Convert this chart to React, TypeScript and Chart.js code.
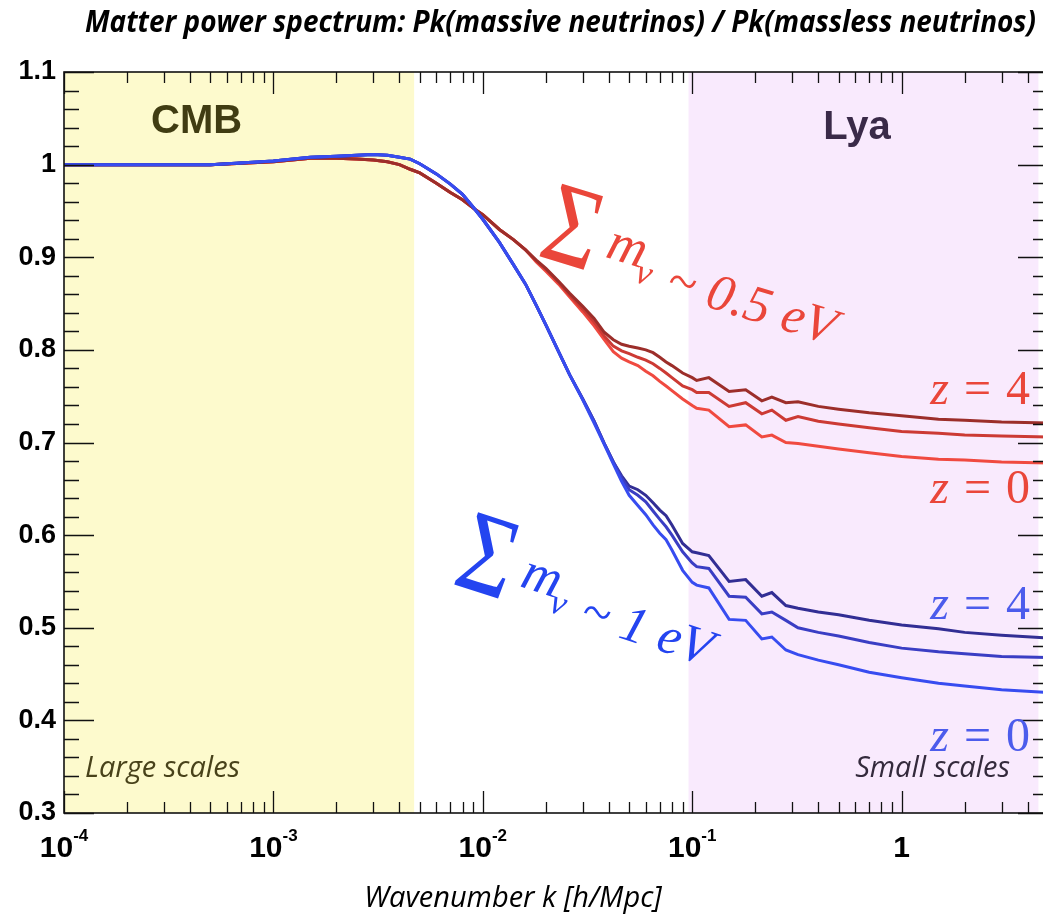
import React, { useEffect, useRef } from 'react';
import { Chart, registerables } from 'chart.js';

Chart.register(...registerables);

// ---------- data ----------
const K = [1e-4, 2e-4, 5e-4, 1e-3, 1.5e-3, 2e-3, 2.5e-3, 3e-3, 3.5e-3, 4e-3, 4.5e-3, 5e-3, 6e-3, 7e-3, 8e-3, 9e-3, 0.01, 0.012, 0.014, 0.016, 0.018, 0.02, 0.023, 0.026, 0.03, 0.034, 0.038, 0.042, 0.046, 0.05, 0.055, 0.06, 0.065, 0.07, 0.075, 0.08, 0.09, 0.1, 0.105, 0.12, 0.15, 0.18, 0.215, 0.24, 0.28, 0.32, 0.4, 0.5, 0.7, 1, 1.5, 2, 3, 5];

const RED_Z4 = [1.000, 1.000, 1.000, 1.003, 1.007, 1.007, 1.006, 1.005, 1.003, 1.000, 0.995, 0.991, 0.980, 0.970, 0.962, 0.953, 0.946, 0.930, 0.919, 0.908, 0.897, 0.888, 0.874, 0.861, 0.847, 0.834, 0.819, 0.811, 0.806, 0.804, 0.802, 0.800, 0.797, 0.792, 0.787, 0.783, 0.775, 0.770, 0.767, 0.770, 0.755, 0.757, 0.745, 0.749, 0.743, 0.744, 0.739, 0.736, 0.732, 0.729, 0.725, 0.724, 0.722, 0.721];
const RED_MID = [1.000, 1.000, 1.000, 1.003, 1.007, 1.007, 1.006, 1.005, 1.003, 1.000, 0.995, 0.991, 0.980, 0.970, 0.962, 0.953, 0.946, 0.930, 0.919, 0.908, 0.896, 0.887, 0.873, 0.859, 0.844, 0.830, 0.815, 0.804, 0.799, 0.796, 0.792, 0.789, 0.785, 0.780, 0.775, 0.770, 0.761, 0.757, 0.754, 0.754, 0.739, 0.743, 0.731, 0.735, 0.724, 0.728, 0.723, 0.720, 0.716, 0.712, 0.710, 0.708, 0.707, 0.706];
const RED_Z0 = [1.000, 1.000, 1.000, 1.003, 1.007, 1.007, 1.006, 1.005, 1.003, 1.000, 0.995, 0.991, 0.980, 0.970, 0.962, 0.953, 0.946, 0.930, 0.919, 0.908, 0.895, 0.885, 0.871, 0.857, 0.841, 0.826, 0.811, 0.798, 0.791, 0.787, 0.783, 0.777, 0.772, 0.766, 0.761, 0.756, 0.747, 0.740, 0.737, 0.735, 0.717, 0.719, 0.706, 0.708, 0.700, 0.699, 0.696, 0.693, 0.689, 0.685, 0.682, 0.681, 0.679, 0.678];

const BLUE_Z4 = [1.000, 1.000, 1.000, 1.004, 1.008, 1.009, 1.010, 1.011, 1.010, 1.008, 1.006, 1.001, 0.990, 0.979, 0.968, 0.954, 0.941, 0.916, 0.892, 0.871, 0.848, 0.827, 0.798, 0.773, 0.747, 0.723, 0.699, 0.679, 0.664, 0.653, 0.649, 0.643, 0.635, 0.627, 0.621, 0.611, 0.591, 0.582, 0.581, 0.578, 0.550, 0.552, 0.534, 0.538, 0.524, 0.521, 0.517, 0.514, 0.508, 0.503, 0.499, 0.495, 0.492, 0.489];
const BLUE_MID = [1.000, 1.000, 1.000, 1.004, 1.008, 1.009, 1.010, 1.011, 1.010, 1.008, 1.006, 1.001, 0.990, 0.979, 0.968, 0.954, 0.941, 0.916, 0.892, 0.871, 0.848, 0.827, 0.798, 0.773, 0.747, 0.723, 0.699, 0.679, 0.662, 0.649, 0.643, 0.636, 0.626, 0.617, 0.609, 0.600, 0.582, 0.570, 0.566, 0.564, 0.534, 0.533, 0.515, 0.517, 0.508, 0.500, 0.495, 0.491, 0.484, 0.478, 0.474, 0.472, 0.469, 0.468];
const BLUE_Z0 = [1.000, 1.000, 1.000, 1.004, 1.008, 1.009, 1.010, 1.011, 1.010, 1.008, 1.006, 1.001, 0.990, 0.979, 0.968, 0.954, 0.941, 0.916, 0.892, 0.871, 0.848, 0.827, 0.798, 0.773, 0.746, 0.721, 0.698, 0.677, 0.658, 0.643, 0.632, 0.622, 0.611, 0.602, 0.595, 0.584, 0.562, 0.549, 0.546, 0.543, 0.509, 0.508, 0.488, 0.490, 0.476, 0.471, 0.465, 0.460, 0.452, 0.446, 0.440, 0.437, 0.433, 0.430];

const X_MIN = 1e-4;
const X_MAX = 5;
const Y_MIN = 0.3;
const Y_MAX = 1.1;
const X_DECADE_LABELS = [
  { k: 1e-4, base: '10', exp: '-4' },
  { k: 1e-3, base: '10', exp: '-3' },
  { k: 1e-2, base: '10', exp: '-2' },
  { k: 1e-1, base: '10', exp: '-1' },
  { k: 1, base: '1', exp: '' },
];

const BANDS = [
  { from: 1e-4, to: 4.7e-3, color: 'rgb(253,250,205)' },
  { from: 0.096, to: 4.5, color: 'rgb(249,234,253)' },
];

const TITLE = 'Matter power spectrum: Pk(massive neutrinos) / Pk(massless neutrinos)';
const X_TITLE = 'Wavenumber k [h/Mpc]';

const RED_TEXT = 'rgb(234,70,58)';
const BLUE_TEXT = 'rgb(36,68,240)';
const BLUE_Z_TEXT = 'rgb(76,92,236)';

// Chart.js paints dataset 0 on top
const SERIES = [
  { label: 'Σmν ~ 1 eV, z = 0', data: BLUE_Z0, color: 'rgb(55,76,240)' },
  { label: 'Σmν ~ 1 eV, intermediate z', data: BLUE_MID, color: 'rgb(58,62,196)' },
  { label: 'Σmν ~ 1 eV, z = 4', data: BLUE_Z4, color: 'rgb(50,46,148)' },
  { label: 'Σmν ~ 0.5 eV, z = 4', data: RED_Z4, color: 'rgb(156,46,42)' },
  { label: 'Σmν ~ 0.5 eV, intermediate z', data: RED_MID, color: 'rgb(204,58,52)' },
  { label: 'Σmν ~ 0.5 eV, z = 0', data: RED_Z0, color: 'rgb(240,74,64)' },
];

const SERIF = '"Liberation Serif", "DejaVu Serif", serif';
const SANS = '"Liberation Sans", Arial, sans-serif';
const CALI = '"Open Sans", "Noto Sans", sans-serif';

// ---------- plugins ----------
const bandsPlugin = {
  id: 'bands',
  beforeDatasetsDraw(chart: any) {
    const { ctx, chartArea: a, scales } = chart;
    const x = scales.x;
    ctx.save();
    for (const b of BANDS) {
      const x0 = x.getPixelForValue(b.from);
      const x1 = x.getPixelForValue(b.to);
      ctx.fillStyle = b.color;
      ctx.fillRect(x0, a.top, x1 - x0, a.bottom - a.top);
    }
    ctx.restore();
  },
};

const framePlugin = {
  id: 'frameTicks',
  afterDatasetsDraw(chart: any) {
    const { ctx, chartArea: a, scales } = chart;
    const x = scales.x;
    const y = scales.y;
    ctx.save();
    ctx.strokeStyle = '#111';
    ctx.lineWidth = 1.3;
    ctx.beginPath();
    for (let e = -4; e <= 0; e++) {
      for (let m = 1; m <= 9; m++) {
        const v = m * Math.pow(10, e);
        if (v >= X_MAX) break;
        const p = Math.round(x.getPixelForValue(v)) + 0.5;
        const len = m === 1 ? 22 : 11;
        ctx.moveTo(p, a.bottom);
        ctx.lineTo(p, a.bottom - len);
        ctx.moveTo(p, a.top);
        ctx.lineTo(p, a.top + len);
      }
    }
    for (let i = 0; i <= 40; i++) {
      const v = Y_MIN + i * 0.02;
      const p = Math.round(y.getPixelForValue(v)) + 0.5;
      const len = i % 5 === 0 ? 30 : 15;
      ctx.moveTo(a.left, p);
      ctx.lineTo(a.left + len, p);
      ctx.moveTo(a.right, p);
      ctx.lineTo(a.right - len, p);
    }
    ctx.stroke();
    ctx.lineWidth = 1.6;
    ctx.strokeRect(a.left, a.top, a.right - a.left, a.bottom - a.top);
    ctx.restore();
  },
};

function drawSum(ctx: CanvasRenderingContext2D, cx: number, cy: number, angle: number, color: string, tail: string) {
  ctx.save();
  ctx.translate(cx, cy);
  ctx.rotate((angle * Math.PI) / 180);
  ctx.fillStyle = color;
  ctx.save();
  ctx.scale(0.82, 1);
  ctx.font = `116px ${SERIF}`;
  ctx.textAlign = 'center';
  ctx.textBaseline = 'middle';
  ctx.fillText('Σ', 0, 0);
  ctx.restore();
  ctx.textAlign = 'left';
  ctx.textBaseline = 'alphabetic';
  ctx.font = `italic 54px ${SERIF}`;
  ctx.fillText('m', 38, 12);
  const mw = ctx.measureText('m').width;
  ctx.font = `italic 36px ${SERIF}`;
  ctx.fillText('ν', 38 + mw - 4, 27);
  ctx.font = `italic 52px ${SERIF}`;
  ctx.fillText(tail, 106, 30);
  ctx.restore();
}

function drawZ(ctx: CanvasRenderingContext2D, right: number, base: number, color: string, digit: string) {
  ctx.save();
  ctx.fillStyle = color;
  ctx.textBaseline = 'alphabetic';
  ctx.textAlign = 'left';
  const gap = 15;
  ctx.font = `italic 48px ${SERIF}`;
  const wz = ctx.measureText('z').width;
  ctx.font = `48px ${SERIF}`;
  const we = ctx.measureText('=').width;
  const wd = ctx.measureText(digit).width;
  let xx = right - (wz + gap + we + gap + wd);
  ctx.font = `italic 48px ${SERIF}`;
  ctx.fillText('z', xx, base);
  xx += wz + gap;
  ctx.font = `48px ${SERIF}`;
  ctx.fillText('=', xx, base);
  xx += we + gap;
  ctx.fillText(digit, xx, base);
  ctx.restore();
}

const annotationsPlugin = {
  id: 'annotations',
  afterDraw(chart: any) {
    const { ctx, chartArea: a, scales } = chart;
    const x = scales.x;
    const y = scales.y;
    const px = (k: number) => x.getPixelForValue(k);
    const py = (v: number) => y.getPixelForValue(v);
    ctx.save();

    // title
    ctx.fillStyle = '#000';
    ctx.font = `italic bold 30px ${CALI}`;
    ctx.textAlign = 'right';
    ctx.textBaseline = 'middle';
    ctx.fillText(TITLE, 1036, 23, 951);

    // x tick labels
    ctx.textBaseline = 'alphabetic';
    ctx.textAlign = 'left';
    for (const t of X_DECADE_LABELS) {
      ctx.font = `bold 30px ${SANS}`;
      const wb = ctx.measureText(t.base).width;
      ctx.font = `bold 17px ${SANS}`;
      const we = t.exp ? ctx.measureText(t.exp).width : 0;
      const c = px(t.k);
      const start = c - (wb + we) / 2;
      ctx.font = `bold 30px ${SANS}`;
      ctx.fillText(t.base, start, a.bottom + 44);
      if (t.exp) {
        ctx.font = `bold 17px ${SANS}`;
        ctx.fillText(t.exp, start + wb, a.bottom + 28);
      }
    }

    // x title
    ctx.font = `italic 29px ${CALI}`;
    ctx.textAlign = 'center';
    ctx.textBaseline = 'middle';
    ctx.fillText(X_TITLE, 513, 899, 304);

    // region labels
    ctx.font = `bold 40px ${SANS}`;
    ctx.fillStyle = 'rgb(64,60,18)';
    ctx.fillText('CMB', px(4.3e-4), py(1.046));
    ctx.fillStyle = 'rgb(58,42,72)';
    ctx.fillText('Lya', px(0.612), py(1.0395));

    ctx.font = `italic 29px ${CALI}`;
    ctx.textBaseline = 'alphabetic';
    ctx.textAlign = 'left';
    ctx.fillStyle = 'rgb(72,66,26)';
    ctx.fillText('Large scales', px(1.26e-4), py(0.339), 158);
    ctx.textAlign = 'right';
    ctx.fillStyle = 'rgb(52,42,60)';
    ctx.fillText('Small scales', px(3.29), py(0.339), 155);

    // sum labels
    drawSum(ctx, px(0.0265), py(0.925), 17, RED_TEXT, '~ 0.5 eV');
    drawSum(ctx, px(0.0104), py(0.570), 18, BLUE_TEXT, '~ 1 eV');

    // redshift labels
    drawZ(ctx, px(4.1), py(0.7415), RED_TEXT, '4');
    drawZ(ctx, px(4.1), py(0.6347), RED_TEXT, '0');
    drawZ(ctx, px(4.1), py(0.5094), BLUE_Z_TEXT, '4');
    drawZ(ctx, px(4.1), py(0.367), BLUE_Z_TEXT, '0');

    ctx.restore();
  },
};

export default function App() {
  const canvasRef = useRef<HTMLCanvasElement | null>(null);

  useEffect(() => {
    const canvas = canvasRef.current;
    if (!canvas) return;
    const chart = new Chart(canvas, {
      type: 'line',
      data: {
        datasets: SERIES.map((s) => ({
          label: s.label,
          data: K.map((k, i) => ({ x: k, y: s.data[i] })),
          borderColor: s.color,
          backgroundColor: s.color,
          borderWidth: 3,
          pointRadius: 0,
          tension: 0,
          fill: false,
        })),
      },
      options: {
        animation: false,
        responsive: false,
        devicePixelRatio: 1,
        layout: { padding: { top: 72, right: 4, left: 0, bottom: 0 } },
        plugins: {
          legend: { display: false },
          tooltip: { enabled: false },
          title: { display: false },
        },
        scales: {
          x: {
            type: 'logarithmic',
            min: X_MIN,
            max: X_MAX,
            ticks: { display: false },
            grid: { display: false, drawTicks: false },
            border: { display: false },
            afterFit: (s: any) => {
              s.height = 105;
            },
          },
          y: {
            type: 'linear',
            min: Y_MIN,
            max: Y_MAX,
            ticks: {
              stepSize: 0.1,
              padding: 8,
              color: '#000',
              font: { family: SANS, weight: 'bold', size: 27 },
              callback: (v: any) => {
                const r = Math.round(Number(v) * 10) / 10;
                return r === 1 ? '1' : r.toFixed(1);
              },
            },
            grid: { display: false, drawTicks: false },
            border: { display: false },
            afterFit: (s: any) => {
              s.width = 64;
            },
          },
        },
      } as any,
      plugins: [bandsPlugin, framePlugin, annotationsPlugin],
    });
    return () => chart.destroy();
  }, []);

  return (
    <div style={{ position: 'absolute', left: 0, top: 0, width: 1043, height: 918, overflow: 'hidden', background: '#fff' }}>
      <canvas ref={canvasRef} width={1052} height={918} style={{ display: 'block' }} />
    </div>
  );
}
